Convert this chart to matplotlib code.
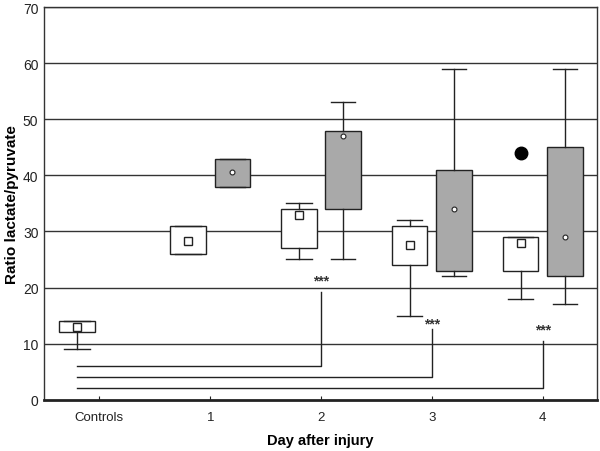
import matplotlib.pyplot as plt

plt.rcParams['font.family'] = ['Liberation Sans', 'DejaVu Sans']

# tick labels / positions
day_labels = ['Controls', '1', '2', '3', '4']
day_pos = [0, 1, 2, 3, 4]

# white boxes (controls + days 1-4): q1, q3, whisker low, whisker high, mean
white_pos = [0, 1, 2, 3, 4]
white_q1 = [12, 26, 27, 24, 23]
white_q3 = [14, 31, 34, 31, 29]
white_lo = [9, 26, 25, 15, 18]
white_hi = [14, 31, 35, 32, 29]
white_mean = [13, 28.3, 33, 27.5, 28]
white_fliers = [[], [], [], [], [44]]

# grey boxes (days 1-4)
grey_pos = [1, 2, 3, 4]
grey_q1 = [38, 34, 23, 22]
grey_q3 = [43, 48, 41, 45]
grey_lo = [38, 25, 22, 17]
grey_hi = [43, 53, 59, 59]
grey_mean = [40.6, 47, 34, 29]

# significance brackets from controls to day n
sig_days = [2, 3, 4]
sig_level = [6, 4, 2]
sig_top = [19.2, 12.6, 10.5]
sig_text_y = [21.3, 13.6, 12.6]


def make_stats(q1, q3, lo, hi, mean, fliers=None):
    stats = []
    for i in range(len(q1)):
        stats.append({'q1': q1[i], 'q3': q3[i], 'med': q1[i], 'mean': mean[i],
                      'whislo': lo[i], 'whishi': hi[i],
                      'fliers': fliers[i] if fliers else []})
    return stats


fig = plt.figure(figsize=(6, 4.52), dpi=100)
ax = fig.add_axes([0.0733, 0.1135, 0.9217, 0.8685])

ax.set_xlim(-0.5, 4.49)
ax.set_ylim(0, 70)

for y in range(10, 71, 10):
    ax.axhline(y, color='#333333', lw=1.0, zorder=1)

off = 0.2
w = 0.32
common = dict(widths=w, showmeans=True, patch_artist=True, manage_ticks=False,
              whiskerprops=dict(color='#222222', lw=1.0),
              capprops=dict(color='#222222', lw=1.0),
              medianprops=dict(lw=0),
              zorder=3)

ax.bxp(make_stats(white_q1, white_q3, white_lo, white_hi, white_mean, white_fliers),
       positions=[p - off for p in white_pos], capwidths=0.23,
       boxprops=dict(facecolor='white', edgecolor='#222222', lw=1.0),
       meanprops=dict(marker='s', markersize=6, markerfacecolor='white',
                      markeredgecolor='#222222', markeredgewidth=1.0),
       flierprops=dict(marker='o', markersize=9, markerfacecolor='black',
                       markeredgecolor='black'),
       **common)

ax.bxp(make_stats(grey_q1, grey_q3, grey_lo, grey_hi, grey_mean),
       positions=[p + off for p in grey_pos], capwidths=0.22,
       boxprops=dict(facecolor='#a9a9a9', edgecolor='#222222', lw=1.0),
       meanprops=dict(marker='o', markersize=3.5, markerfacecolor='white',
                      markeredgecolor='#222222', markeredgewidth=0.8),
       **common)

# brackets
for d, lvl, top, ty in zip(sig_days, sig_level, sig_top, sig_text_y):
    ax.plot([-off, d, d], [lvl, lvl, top], color='#222222', lw=1.0, zorder=2)
    ax.text(d, ty, '***', ha='center', va='center', fontsize=10,
            fontweight='bold', color='#333333')

ax.set_xticks(day_pos)
ax.set_xticklabels(day_labels)
ax.set_yticks(range(0, 71, 10))
ax.tick_params(axis='x', direction='in', length=3, labelsize=9.5, pad=8, colors='#222222')
ax.tick_params(axis='y', length=0, labelsize=10, pad=4, colors='#222222')

for s in ['left', 'right', 'top']:
    ax.spines[s].set_linewidth(1.0)
    ax.spines[s].set_color('#333333')
ax.spines['bottom'].set_linewidth(2.0)
ax.spines['bottom'].set_color('#222222')

ax.set_xlabel('Day after injury', fontsize=10.5, fontweight='bold', labelpad=7)
ax.set_ylabel('Ratio lactate/pyruvate', fontsize=11, fontweight='bold', labelpad=3)

fig.savefig('out.png', dpi=100)
